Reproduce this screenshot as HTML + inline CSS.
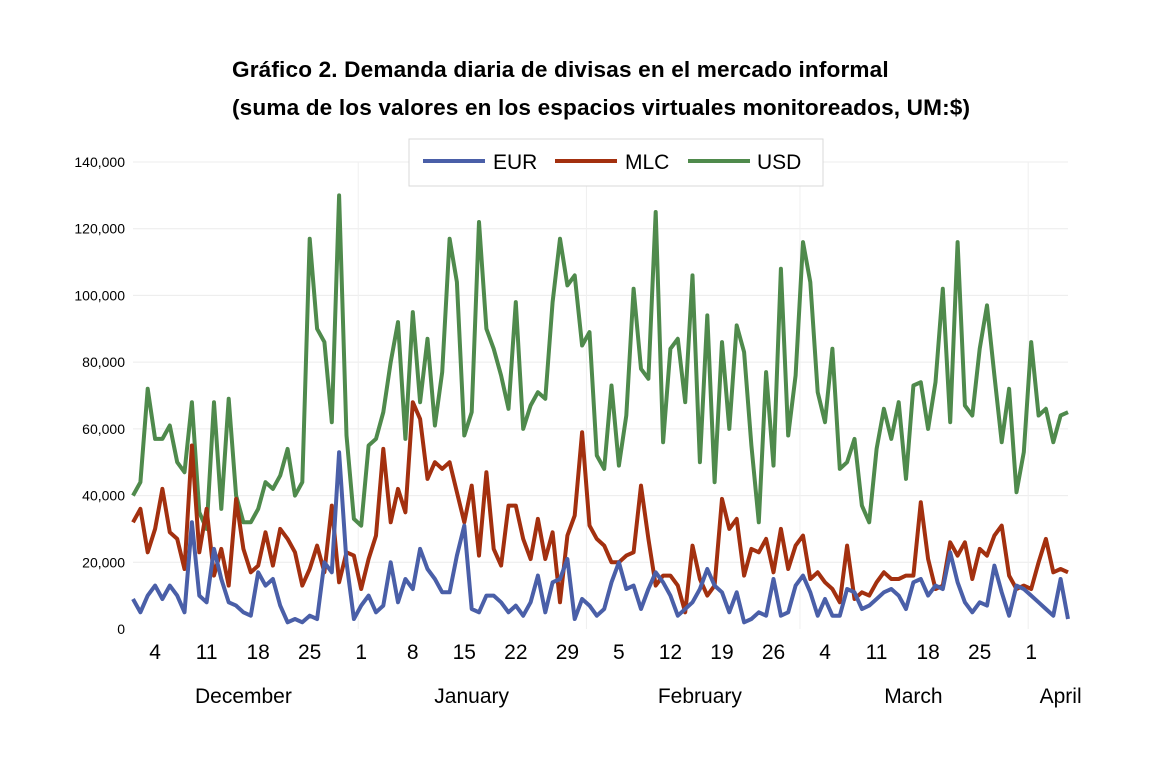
<!DOCTYPE html>
<html><head><meta charset="utf-8"><style>
body{margin:0;background:#fff;}
svg{display:block;font-family:"Liberation Sans",sans-serif;}
</style></head><body>
<svg id="c" width="1168" height="768">
<text x="232" y="77" font-size="22.6" letter-spacing="0.15" font-weight="bold">Gráfico 2. Demanda diaria de divisas en el mercado informal</text>
<text x="232" y="115" font-size="22.6" letter-spacing="0.15" font-weight="bold">(suma de los valores en los espacios virtuales monitoreados, UM:$)</text>
<g id="grid"></g><g id="ticks"></g><g id="lines"></g>
<g>
<rect x="409" y="139" width="414" height="47" fill="#fff" stroke="#d9d9d9"/>
<line x1="423" y1="161" x2="485" y2="161" stroke="#4a5fa8" stroke-width="4"/>
<text x="493" y="169" font-size="21">EUR</text>
<line x1="555" y1="161" x2="617" y2="161" stroke="#a3300f" stroke-width="4"/>
<text x="625" y="169" font-size="21">MLC</text>
<line x1="688" y1="161" x2="750" y2="161" stroke="#4f8a4c" stroke-width="4"/>
<text x="757" y="169" font-size="21">USD</text>
</g>
</svg>
<script>
const usd=[40,44,72,57,57,61,50,47,68,35,30,68,36,69,40,32,32,36,44,42,46,54,40,44,117,90,86,62,130,58,33,
31,55,57,65,80,92,57,95,68,87,61,77,117,104,58,65,122,90,84,76,66,98,60,67,71,69,98,117,103,106,85,
89,52,48,73,49,64,102,78,75,125,56,84,87,68,106,50,94,44,86,60,91,83,55,32,77,49,108,58,76,
116,104,71,62,84,48,50,57,37,32,54,66,57,68,45,73,74,60,74,102,62,116,67,64,84,97,76,56,72,41,53,
86,64,66,56,64,65];
const mlc=[32,36,23,30,42,29,27,18,55,23,36,16,24,13,39,24,17,19,29,19,30,27,23,13,18,25,17,37,14,23,22,
12,21,28,54,32,42,35,68,63,45,50,48,50,41,32,43,22,47,24,19,37,37,27,21,33,21,29,8,28,34,59,
31,27,25,20,20,22,23,43,27,13,16,16,13,5,25,15,10,13,39,30,33,16,24,23,27,17,30,18,25,
28,15,17,14,12,8,25,9,11,10,14,17,15,15,16,16,38,21,12,13,26,22,26,15,24,22,28,31,16,12,13,
12,20,27,17,18,17];
const eur=[9,5,10,13,9,13,10,5,32,10,8,24,15,8,7,5,4,17,13,15,7,2,3,2,4,3,20,17,53,20,3,
7,10,5,7,20,8,15,12,24,18,15,11,11,22,31,6,5,10,10,8,5,7,4,8,16,5,14,15,21,3,9,
7,4,6,14,20,12,13,6,12,17,14,10,4,6,8,12,18,13,11,5,11,2,3,5,4,15,4,5,13,
16,11,4,9,4,4,12,11,6,7,9,11,12,10,6,14,15,10,13,12,23,14,8,5,8,7,19,11,4,13,12,
10,8,6,4,15,3];
const yTicks=[0,20000,40000,60000,80000,100000,120000,140000];
const dayLabels=[["4",3],["11",10],["18",17],["25",24],["1",31],["8",38],["15",45],["22",52],["29",59],["5",66],["12",73],["19",80],["26",87],["4",94],["11",101],["18",108],["25",115],["1",122]];
const months=[["December",15],["January",46],["February",77],["March",106],["April",126]];
const X0=133,X1=1068,Y0=629,Y1=162;
const N=usd.length;
const xs=i=>X0+i*(X1-X0)/(N-1);
const ys=v=>Y0-v/140000*(Y0-Y1);
const NS="http://www.w3.org/2000/svg";
function mk(tag,attrs,parent,txt){const e=document.createElementNS(NS,tag);for(const k in attrs)e.setAttribute(k,attrs[k]);if(txt!==undefined)e.textContent=txt;parent.appendChild(e);return e;}
const grid=document.getElementById('grid'),ticks=document.getElementById('ticks'),lines=document.getElementById('lines');
yTicks.forEach(v=>{
 if(v>0){const g=mk('line',{x1:X0,x2:X1,y1:ys(v),y2:ys(v),stroke:'#ececec','stroke-width':1},grid);
 
 }
 const t=mk('text',{x:125,y:ys(v)+5,'font-size':14,'text-anchor':'end'},ticks,v===0?'0':v.toLocaleString('en-US'));
 
 
});
[31,62,91,122].forEach(i=>{const l=mk('line',{x1:xs(i)-3,x2:xs(i)-3,y1:Y1,y2:Y0,stroke:'#f0f0f0','stroke-width':1},grid);
 
 });
dayLabels.forEach(d=>{const t=mk('text',{x:xs(d[1]),y:659,'font-size':21,'text-anchor':'middle'},ticks,d[0]);
 
 });
months.forEach(m=>{const t=mk('text',{x:xs(m[1]),y:703,'font-size':21,'text-anchor':'middle'},ticks,m[0]);
 
 });
function series(arr,color,name){
 const pts=arr.map((v,i)=>xs(i).toFixed(1)+','+ys(v*1000).toFixed(1)).join(' ');
 const p=mk('polyline',{points:pts,fill:'none',stroke:color,'stroke-width':4,'stroke-linejoin':'round'},lines);
 
 
}
series(usd,'#4f8a4c','usd-line');
series(mlc,'#a3300f','mlc-line');
series(eur,'#4a5fa8','eur-line');
</script>
</body></html>
